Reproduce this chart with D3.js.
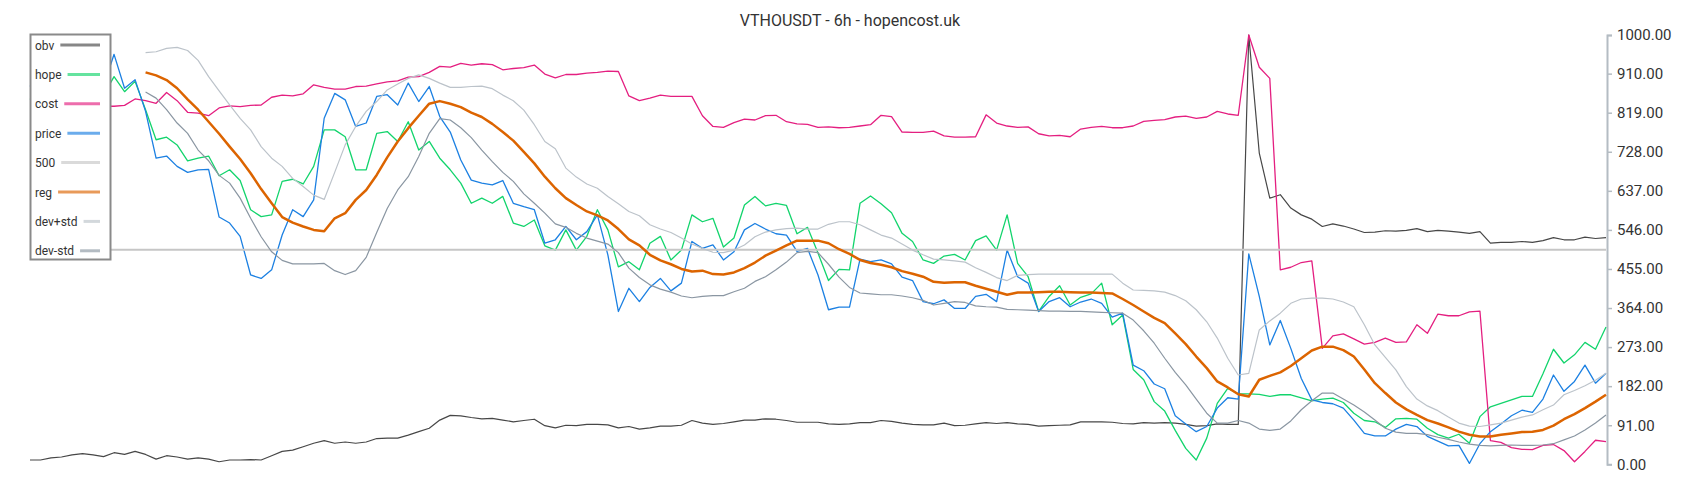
<!DOCTYPE html>
<meta charset="utf-8">
<script src="https://d3js.org/d3.v7.min.js"></script>
<style>
  body { margin: 0; background: #fff; }
  text { font-family: Roboto, "Noto Sans", sans-serif; fill: #333; }
</style>
<div id="dataviz"></div>
<script>

// 151 samples, one every ~10.5px across the plot
var obv = [
  10, 10, 15, 17, 22, 25, 22, 18, 27, 23, 30, 23, 12, 20, 17, 12, 15, 12, 6,
  10, 10, 11, 10, 20, 30, 33, 41, 49, 55, 49, 52, 49, 52, 60, 61, 61, 68, 76,
  84, 103, 114, 113, 109, 106, 107, 103, 99, 102, 105, 90, 85, 91, 90, 93, 93, 92, 85,
  88, 82, 85, 89, 89, 91, 102, 96, 93, 95, 99, 103, 103, 106, 105, 102, 98, 98, 98,
  94, 93, 94, 97, 97, 102, 100, 96, 93, 92, 92, 96, 90, 91, 94, 97, 95, 97, 94,
  93, 89, 90, 91, 92, 99, 99, 99, 98, 95, 94, 97, 96, 97, 96, 93, 89, 90, 94,
  93, 93, 1000, 725, 620, 628, 597, 581, 571, 554, 560, 555, 548, 540, 541, 544, 543, 545, 549,
  542, 545, 543, 541, 538, 542, 515, 517, 517, 519, 517, 521, 528, 523, 523, 529, 526, 528
];

var hope = [
  850, 870, 840, 860, 880, 860, 845, 860, 903, 868, 892, 826, 756, 762, 744, 707, 713, 718, 672,
  686, 661, 593, 577, 581, 659, 664, 653, 694, 779, 779, 763, 686, 686, 771, 775, 752, 798, 732,
  752, 713, 686, 655, 608, 620, 608, 624, 562, 554, 569, 509, 499, 546, 499, 531, 593, 546, 460,
  472, 453, 515, 531, 476, 499, 581, 565, 573, 506, 527, 604, 624, 602, 608, 603, 537, 552, 492,
  428, 454, 453, 608, 625, 607, 586, 538, 519, 476, 468, 485, 489, 476, 521, 532, 499, 581, 468,
  437, 356, 391, 416, 371, 389, 397, 422, 325, 348, 221, 197, 146, 124, 79, 37, 10, 61, 142,
  177, 164, 164, 163, 158, 162, 162, 155, 148, 152, 154, 144, 119, 102, 99, 86, 106, 107, 105,
  84, 69, 61, 70, 49, 111, 134, 142, 150, 158, 158, 211, 268, 236, 255, 284, 268, 320
];

var cost = [
  833, 833, 834, 834, 835, 835, 835, 834, 834, 836, 851, 847, 841, 866, 847, 820, 818, 812, 830,
  835, 833, 836, 837, 855, 860, 858, 863, 884, 878, 874, 874, 880, 881, 886, 891, 893, 902, 903,
  913, 927, 925, 934, 930, 933, 931, 919, 922, 924, 930, 909, 900, 908, 908, 911, 913, 916, 915,
  858, 847, 853, 860, 857, 857, 857, 812, 787, 785, 796, 804, 802, 812, 813, 798, 793, 792, 785,
  786, 784, 785, 788, 791, 813, 810, 774, 773, 773, 776, 765, 762, 762, 763, 814, 795, 788, 785,
  786, 770, 765, 766, 763, 781, 785, 787, 784, 784, 788, 799, 801, 803, 809, 811, 806, 809, 822,
  816, 813, 1000, 925, 899, 453, 459, 470, 474, 270, 299, 304, 292, 280, 284, 294, 284, 285, 325,
  305, 350, 346, 346, 355, 357, 55, 51, 39, 35, 34, 44, 46, 32, 6, 30, 56, 53
];

var price = [
  880, 905, 870, 895, 915, 885, 860, 880, 955, 876, 896, 822, 713, 718, 694, 680, 686, 687, 576,
  562, 531, 441, 433, 453, 534, 593, 577, 616, 806, 864, 849, 787, 795, 857, 861, 837, 888, 845,
  880, 810, 774, 709, 662, 655, 651, 661, 608, 600, 593, 515, 523, 554, 523, 542, 581, 488, 356,
  410, 379, 412, 433, 404, 422, 519, 503, 511, 476, 495, 546, 561, 548, 537, 534, 496, 503, 441,
  360, 366, 366, 478, 472, 476, 467, 436, 428, 379, 374, 383, 363, 363, 391, 396, 379, 499, 437,
  422, 356, 379, 388, 367, 378, 385, 375, 343, 352, 231, 218, 187, 176, 113, 94, 76, 88, 131,
  155, 152, 490, 391, 278, 335, 270, 200, 150, 144, 141, 131, 103, 72, 66, 66, 82, 93, 88,
  65, 54, 43, 44, 2, 48, 76, 94, 113, 126, 121, 152, 208, 170, 193, 231, 189, 212
];

var level = 500;

var reg = [
  null, null, null, null, null, null, null, null, null, null, null, 913, 906, 895, 876, 850, 826, 798, 770,
  740, 711, 678, 641, 608, 576, 563, 554, 546, 543, 573, 585, 616, 639, 674, 715, 752, 783, 812,
  840, 846, 840, 832, 819, 809, 793, 774, 754, 728, 701, 670, 643, 620, 604, 589, 580, 568, 548,
  524, 510, 488, 475, 466, 455, 449, 451, 443, 442, 447, 457, 470, 486, 498, 510, 521, 521, 521,
  515, 501, 490, 476, 469, 465, 459, 450, 444, 437, 425, 423, 424, 424, 416, 409, 402, 395, 400,
  400, 401, 402, 402, 401, 400, 400, 399, 398, 385, 371, 356, 341, 329, 305, 280, 251, 224, 193,
  179, 163, 158, 197, 206, 214, 229, 247, 265, 274, 274, 266, 251, 221, 189, 166, 144, 128, 115,
  103, 95, 86, 76, 69, 65, 65, 69, 72, 75, 76, 80, 90, 105, 117, 131, 146, 162
];

var devPlus = [
  null, null, null, null, null, null, null, null, null, null, null, 959, 961, 969, 971, 964, 941, 903, 870,
  837, 806, 779, 740, 713, 694, 666, 647, 627, 617, 680, 744, 787, 822, 845, 872, 886, 899, 907,
  899, 888, 878, 878, 880, 881, 875, 860, 847, 825, 791, 752, 735, 690, 669, 653, 643, 624, 607,
  589, 579, 558, 548, 540, 527, 513, 503, 494, 493, 499, 511, 530, 541, 546, 549, 550, 548, 548,
  559, 565, 565, 558, 546, 534, 527, 513, 499, 488, 478, 476, 474, 471, 458, 447, 435, 428, 440,
  442, 443, 443, 443, 443, 443, 443, 443, 443, 422, 406, 405, 404, 401, 393, 381, 360, 332, 294,
  247, 208, 212, 313, 334, 352, 375, 385, 387, 387, 385, 378, 367, 325, 278, 249, 220, 181, 152,
  136, 125, 110, 96, 89, 88, 92, 96, 103, 110, 115, 127, 138, 162, 172, 183, 196, 212
];

var devMinus = [
  null, null, null, null, null, null, null, null, null, null, null, 867, 853, 826, 795, 771, 732, 707, 673,
  655, 620, 573, 530, 495, 475, 467, 467, 467, 468, 451, 442, 451, 482, 540, 596, 639, 670, 717,
  771, 805, 802, 784, 761, 732, 705, 680, 659, 630, 608, 585, 560, 552, 538, 527, 520, 513, 493,
  457, 435, 418, 408, 401, 392, 388, 391, 393, 393, 402, 410, 426, 437, 453, 471, 493, 496, 493,
  466, 436, 412, 399, 397, 395, 395, 392, 388, 382, 371, 375, 379, 377, 369, 367, 366, 361, 360,
  359, 358, 357, 357, 356, 356, 355, 354, 353, 352, 336, 311, 282, 247, 214, 185, 152, 119, 96,
  96, 102, 96, 82, 79, 82, 101, 127, 148, 166, 166, 152, 138, 122, 103, 84, 75, 72, 72,
  69, 63, 58, 52, 47, 44, 43, 44, 45, 44, 44, 45, 48, 57, 66, 80, 96, 115
];

var yTicks = [0, 91, 182, 273, 364, 455, 546, 637, 728, 819, 910, 1000];

var width = 1700, height = 500;

var svg = d3.select("#dataviz")
  .append("svg")
    .attr("width", width)
    .attr("height", height);

var x = d3.scaleLinear()
  .domain([0, obv.length - 1])
  .range([30, 1606]);

var y = d3.scaleLinear()
  .domain([0, 1000])
  .range([464.3, 35]);

// title
svg.append("text")
  .attr("x", 850)
  .attr("y", 26)
  .attr("text-anchor", "middle")
  .style("font-size", "16px")
  .text("VTHOUSDT - 6h - hopencost.uk");

// right axis
var axis = svg.append("g")
  .attr("transform", "translate(1607,0)")
  .call(d3.axisRight(y).tickValues(yTicks).tickFormat(d3.format(".2f")).tickSize(5).tickPadding(5));
axis.select(".domain").attr("stroke", "#b4bcc3").attr("stroke-width", 2);
axis.selectAll(".tick line").attr("stroke", "#b4bcc3").attr("stroke-width", 1.5);
axis.selectAll(".tick text")
  .style("font-size", "15px")
  .style("font-family", "Roboto, sans-serif")
  .attr("fill", "#333");

var line = d3.line()
  .defined(function(d) { return d != null; })
  .x(function(d, i) { return x(i); })
  .y(function(d) { return y(d); });

var series = [
  {name: "obv", data: obv, color: "#474747", w: 1.2},
  {name: "hope", data: hope, color: "#12d46c", w: 1.3},
  {name: "cost", data: cost, color: "#e41f80", w: 1.3},
  {name: "price", data: price, color: "#1c80e2", w: 1.3},
  {name: "500", data: null, color: "#c6c6c6", w: 2},
  {name: "reg", data: reg, color: "#dc6400", w: 2.5},
  {name: "dev+std", data: devPlus, color: "#bcc3ca", w: 1.2},
  {name: "dev-std", data: devMinus, color: "#8a96a2", w: 1.2}
];

series.forEach(function(s) {
  if (s.data == null) {
    svg.append("line")
      .attr("x1", x(0))
      .attr("x2", x(obv.length - 1))
      .attr("y1", y(level))
      .attr("y2", y(level))
      .attr("stroke", s.color)
      .attr("stroke-width", s.w);
  } else {
    svg.append("path")
      .datum(s.data)
      .attr("fill", "none")
      .attr("stroke", s.color)
      .attr("stroke-width", s.w)
      .attr("stroke-linejoin", "round")
      .attr("d", line);
  }
});

// legend box (white, covers the start of the lines)
var legend = svg.append("g");
legend.append("rect")
  .attr("x", 30.5)
  .attr("y", 34.5)
  .attr("width", 80)
  .attr("height", 225)
  .attr("fill", "#fff")
  .attr("stroke", "#8a8a8a")
  .attr("stroke-width", 2);

series.forEach(function(s, i) {
  var ly = 45 + i * 29.4;
  var t = legend.append("text")
    .attr("x", 35)
    .attr("y", ly + 4.5)
    .style("font-size", "12px")
    .text(s.name);
  var tw = t.node().getComputedTextLength();
  legend.append("line")
    .attr("x1", 35 + tw + 6)
    .attr("x2", 100)
    .attr("y1", ly)
    .attr("y2", ly)
    .attr("stroke", s.color)
    .attr("stroke-opacity", 0.65)
    .attr("stroke-width", 3);
});

</script>
